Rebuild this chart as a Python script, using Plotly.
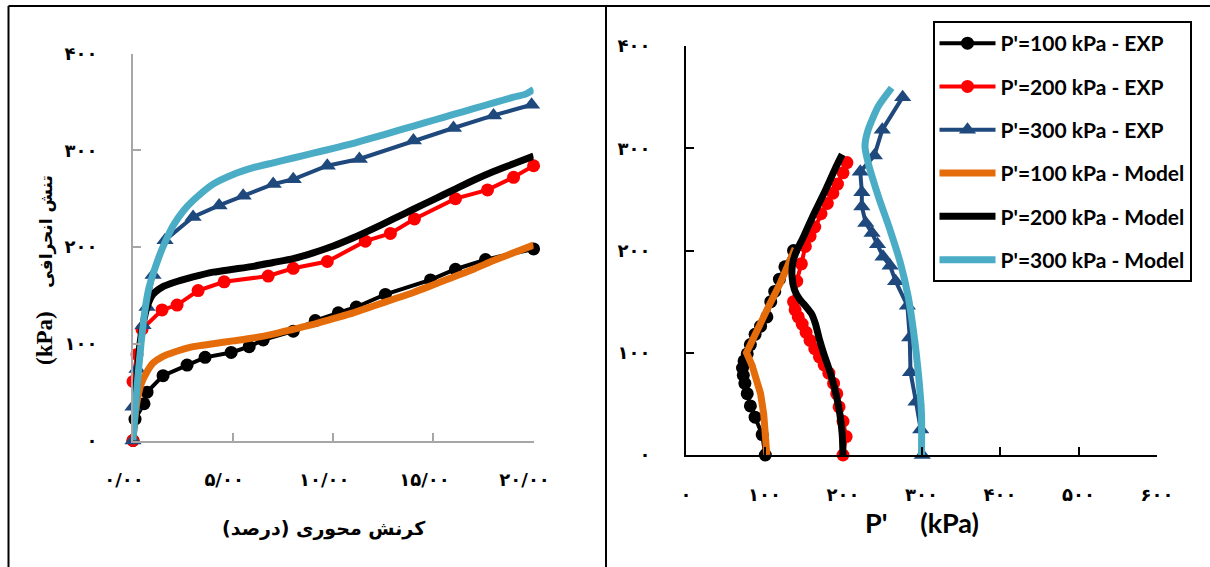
import plotly.graph_objects as go

W, H = 1210, 567

# ---------------- data: left panel (stress-strain) ----------------
strain_ticks = [0, 5, 10, 15, 20]
strain_ticktext = ["۰/۰۰", "۵/۰۰", "۱۰/۰۰", "۱۵/۰۰", "۲۰/۰۰"]
q_ticks = [0, 100, 200, 300, 400]
q_ticktext = ["۰", "۱۰۰", "۲۰۰", "۳۰۰", "۴۰۰"]
p_ticks = [0, 100, 200, 300, 400, 500, 600]
p_ticktext = ["۰", "۱۰۰", "۲۰۰", "۳۰۰", "۴۰۰", "۵۰۰", "۶۰۰"]

exp100_strain = [0, 0.1, 0.55, 0.7, 1.5, 2.7, 3.6, 4.9, 5.8, 6.5, 8.0, 9.1, 10.25, 11.15, 12.6, 14.85, 16.1, 17.6, 20.0]
exp100_q = [0, 22, 38, 50, 67, 78, 86, 91, 97, 104, 113, 124, 132, 138, 151, 166, 177, 187, 198]

exp200_strain = [0, 0, 0.2, 0.45, 1.45, 2.2, 3.25, 4.55, 6.75, 8.0, 9.7, 11.6, 12.85, 14.05, 16.1, 17.7, 19.0, 20.0]
exp200_q = [0, 61, 89, 115, 135, 140, 155, 164, 170, 178, 185, 206, 214, 229, 250, 259, 272, 284]

exp300_strain = [0, 0, 0.2, 0.5, 0.7, 1.0, 1.6, 3.0, 4.3, 5.5, 7.0, 8.0, 9.7, 11.3, 14.0, 16.0, 18.0, 19.9]
exp300_q = [0, 35, 74, 119, 138, 171, 207, 231, 243, 253, 265, 270, 284, 291, 310, 323, 336, 347]

mod100_strain = [0, 0.1, 0.2, 0.4, 0.7, 1.0, 1.5, 2.0, 3.0, 4.0, 5.0, 6.0, 7.0, 8.0, 9.0, 10, 11, 12, 13, 14, 15, 16, 17, 18, 19, 20]
mod100_q = [0, 25, 40, 58, 71, 80, 87, 91, 97, 100, 103, 106, 110, 115, 120, 126, 132, 139, 146, 153, 161, 169, 177, 186, 194, 202]

mod200_strain = [0, 0.1, 0.2, 0.35, 0.5, 0.7, 1.0, 1.5, 2, 3, 4, 5, 6, 7, 8, 9, 10, 11, 12, 13, 14, 15, 16, 17, 18, 19, 20]
mod200_q = [0, 35, 62, 100, 120, 138, 151, 159, 163, 169, 174, 177, 180, 184, 188, 194, 201, 209.5, 219, 229, 239, 249, 259, 269, 278, 286, 294]

mod300_strain = [0, 0.2, 0.4, 0.6, 0.8, 1.0, 1.3, 1.6, 2.0, 2.5, 3, 4, 5, 6, 7, 8, 9, 10, 11, 12, 13, 14, 15, 16, 17, 18, 19, 19.6, 20]
mod300_q = [0, 55, 100, 135, 158, 172, 190, 205, 222, 237, 248, 265, 275, 282, 287, 292, 297, 302, 307, 313, 319, 325, 331, 337, 343, 349, 355, 358, 363]

# ---------------- data: right panel (stress path q - p') ----------------
exp100_p = [101, 97, 88, 82, 78, 75, 73, 72, 74, 78, 82, 88, 95, 103, 108, 113, 119, 126, 137]
exp100_pq = [0, 20, 37, 48, 60, 70, 78, 85, 92, 99, 108, 118, 126, 135, 150, 160, 172, 184, 200]

exp200_p = [200, 204, 200, 195, 192, 188, 182, 176, 170, 164, 158, 153, 148, 143, 139, 137, 141, 147, 152, 158, 164, 172, 180, 187, 193, 200, 205]
exp200_pq = [0, 18, 33, 47, 60, 70, 80, 88, 96, 104, 112, 120, 128, 135, 142, 150, 170, 187, 204, 214, 223, 236, 246, 256, 265, 276, 286]

exp300_p = [301, 299, 293, 286, 285, 282, 267, 260, 251, 244, 237, 229, 224, 224, 222, 240, 250, 276]
exp300_pq = [0, 25, 52, 81, 115, 146, 170, 185, 194, 206, 217, 227, 243, 257, 277, 293, 318, 350]

mod100_p = [103, 102, 99, 95, 90, 84, 77, 90, 105, 120, 135, 139]
mod100_pq = [0, 20, 40, 60, 75, 88, 100, 122, 145, 168, 192, 202]

mod200_p = [200, 199, 196, 191, 184, 176, 170, 165, 160, 153, 145, 138, 135, 136, 140, 150, 163, 177, 190, 199]
mod200_pq = [0, 20, 40, 60, 80, 98, 113, 128, 138, 145, 152, 162, 175, 188, 198, 214, 236, 258, 280, 294]

mod300_p = [300, 300, 296, 290, 283, 273, 260, 245, 232, 228, 232, 245, 262]
mod300_pq = [0, 40, 80, 120, 155, 188, 220, 253, 286, 302, 318, 341, 359]

names = ["P'=100 kPa - EXP", "P'=200 kPa - EXP", "P'=300 kPa - EXP",
         "P'=100 kPa - Model", "P'=200 kPa - Model", "P'=300 kPa - Model"]

C_BLACK = "#000000"
C_RED = "#FF0000"
C_DBLUE = "#1F497D"
C_ORANGE = "#E46C0A"
C_LBLUE = "#4BACC6"

fig = go.Figure()

def exp_trace(x, y, color, symbol, name, xa, ya, show):
    return go.Scatter(x=x, y=y, mode="lines+markers", name=name, legendgroup=name,
                      showlegend=show, xaxis=xa, yaxis=ya, cliponaxis=False,
                      line=dict(color=color, width=4),
                      marker=dict(color=color, symbol=symbol, size=13 if symbol == "circle" else 15,
                                  line=dict(width=0)))

def mod_trace(x, y, color, name, xa, ya, show, shape="spline"):
    return go.Scatter(x=x, y=y, mode="lines", name=name, legendgroup=name,
                      showlegend=show, xaxis=xa, yaxis=ya, cliponaxis=False,
                      line=dict(color=color, width=7, shape=shape, smoothing=0.6))

# left panel
fig.add_trace(exp_trace(exp100_strain, exp100_q, C_BLACK, "circle", names[0], "x", "y", False))
fig.add_trace(exp_trace(exp200_strain, exp200_q, C_RED, "circle", names[1], "x", "y", False))
fig.add_trace(exp_trace(exp300_strain, exp300_q, C_DBLUE, "triangle-up", names[2], "x", "y", False))
fig.add_trace(mod_trace(mod100_strain, mod100_q, C_ORANGE, names[3], "x", "y", False))
fig.add_trace(mod_trace(mod200_strain, mod200_q, C_BLACK, names[4], "x", "y", False))
fig.add_trace(mod_trace(mod300_strain, mod300_q, C_LBLUE, names[5], "x", "y", False))

# right panel
fig.add_trace(exp_trace(exp100_p, exp100_pq, C_BLACK, "circle", names[0], "x2", "y2", True))
fig.add_trace(exp_trace(exp200_p, exp200_pq, C_RED, "circle", names[1], "x2", "y2", True))
fig.add_trace(exp_trace(exp300_p, exp300_pq, C_DBLUE, "triangle-up", names[2], "x2", "y2", True))
fig.add_trace(mod_trace(mod100_p, mod100_pq, C_ORANGE, names[3], "x2", "y2", True, shape="linear"))
fig.add_trace(mod_trace(mod200_p, mod200_pq, C_BLACK, names[4], "x2", "y2", True))
fig.add_trace(mod_trace(mod300_p, mod300_pq, C_LBLUE, names[5], "x2", "y2", True))

tickfont = dict(family="DejaVu Sans", size=18, color="black", weight="bold")
GRAY = "#A6A6A6"

common = dict(showgrid=False, zeroline=False, showline=True, linewidth=2, automargin=False,
              ticks="inside", ticklen=8, tickwidth=2, tickfont=tickfont)

fig.update_layout(
    width=W, height=H, autosize=False,
    margin=dict(l=0, r=0, t=0, b=0, pad=0, autoexpand=False),
    paper_bgcolor="white", plot_bgcolor="white",
    showlegend=True,
    xaxis=dict(domain=[133 / W, 533.6 / W], range=[0, 20], anchor="y",
               tickvals=strain_ticks, ticktext=strain_ticktext,
               linecolor=GRAY, tickcolor=GRAY, ticklabelshift=-9, ticklabelstandoff=22, **common),
    yaxis=dict(domain=[1 - 440.5 / H, 1 - 53.5 / H], range=[0, 400], anchor="x",
               tickvals=q_ticks, ticktext=q_ticktext,
               linecolor=GRAY, tickcolor=GRAY, ticklabelstandoff=30, **common),
    xaxis2=dict(domain=[686 / W, 1157 / W], range=[0, 600], anchor="y2",
                tickvals=p_ticks, ticktext=p_ticktext,
                linecolor="black", tickcolor="black", ticklabelstandoff=22, **common),
    yaxis2=dict(domain=[1 - 455 / H, 1 - 46 / H], range=[0, 400], anchor="x2",
                tickvals=q_ticks, ticktext=q_ticktext,
                linecolor="black", tickcolor="black", ticklabelstandoff=30, **common),
    legend=dict(x=932.5 / W, y=1 - 21 / H, xanchor="left", yanchor="top",
                bgcolor="white", bordercolor="black", borderwidth=2,
                font=dict(family="Lato", size=21, color="black", weight="bold"),
                itemwidth=56, tracegroupgap=13, traceorder="grouped"),
)

# frame lines
frame = dict(type="line", xref="paper", yref="paper", line=dict(color="black", width=2))
fig.add_shape(x0=8.5 / W, x1=1, y0=1 - 6 / H, y1=1 - 6 / H, **frame)
fig.add_shape(x0=8.5 / W, x1=8.5 / W, y0=0, y1=1 - 6 / H, **frame)
fig.add_shape(x0=606 / W, x1=606 / W, y0=0, y1=1 - 6 / H, **frame)

# axis titles as annotations
fig.add_annotation(
    text="\u200Fکرنش محوری (درصد)\u200F", xref="paper", yref="paper",
    x=324 / W, y=1 - 528 / H, showarrow=False, xanchor="center", yanchor="middle",
    font=dict(family="DejaVu Sans", size=19, color="black", weight="bold"))
fig.add_annotation(
    text="<span style=\"font-family:'Liberation Serif';font-size:23px\">(kPa)</span>\u00A0\u00A0\u00A0\u00A0تنش انحرافی",
    xref="paper", yref="paper", x=44 / W, y=1 - 270 / H, textangle=-90,
    showarrow=False, xanchor="center", yanchor="middle",
    font=dict(family="DejaVu Sans", size=17, color="black", weight="bold"))
fig.add_annotation(
    text="P'\u00A0\u00A0\u00A0\u00A0\u00A0(kPa)", xref="paper", yref="paper",
    x=922 / W, y=1 - 522 / H, showarrow=False, xanchor="center", yanchor="middle",
    font=dict(family="Lato", size=27, color="black", weight="bold"))

fig.write_html("out.html")
